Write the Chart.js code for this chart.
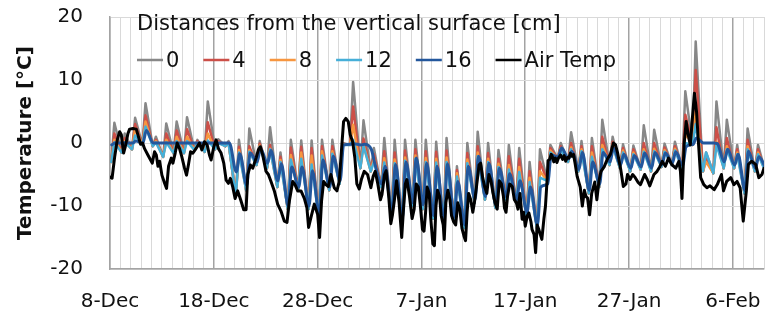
<!DOCTYPE html>
<html>
<head>
<meta charset="utf-8">
<script src="https://cdn.jsdelivr.net/npm/chart.js@4"></script>
<style>
  html, body { margin: 0; padding: 0; background: #ffffff; }
  #wrap { width: 767px; height: 322px; }
</style>
</head>
<body>
<div id="wrap"><canvas id="chart" width="767" height="322"></canvas></div>
<script>
// ---- Data (day 0 = 8 Dec, one unit per day) ----
const xTickLabels = ['8-Dec', '18-Dec', '28-Dec', '7-Jan', '17-Jan', '27-Jan', '6-Feb'];
const legendTitle = 'Distances from the vertical surface [cm]';
const seriesNames = ['0', '4', '8', '12', '16', 'Air Temp'];

// Daily morning low shared by the 0-12 cm sensors (days 0..63)
const surfaceLow = [
  -3.0, -1.5, -1.0, -0.3, -0.5, -2.2, -1.6, -1.6, -1.1, -1.4,
  -1.0, -0.5, -8.5, -7.5, -3.5, -4.0, -7.0, -10.5, -7.5, -10.5,
  -12.0, -7.5, -6.5, -0.3, -4.0, -4.5, -7.0, -11.5, -12.5, -10.0,
  -10.5, -12.0, -12.8, -12.3, -13.5, -9.5, -9.0, -10.3, -9.0, -9.5,
  -11.5, -13.5, -6.0, -2.5, -3.0, -4.5, -8.0, -7.0, -3.5, -4.0,
  -4.5, -4.2, -4.5, -3.8, -3.5, -4.0, -0.3, -4.5, -4.8, -4.0,
  -4.0, -8.0, -4.5, -4.5
];

// Daily midday peaks (days 0..62)
const peak0 = [
  3.2, 1.5, 4.0, 6.3, 1.0, 3.1, 3.4, 4.1, 0.5, 6.6,
  0.6, 0.3, 0.5, 2.3, 0.3, 2.5, -1.5, 0.5, 0.4, 0.4,
  0.5, 0.5, 0.0, 9.7, 3.6, -0.8, 0.8, 0.5, 0.5, 0.5,
  0.5, 0.2, 0.8, -3.7, 0.0, 1.8, 0.0, -1.1, -0.3, -0.8,
  -3.0, -1.0, -0.3, 0.0, 1.7, 0.3, 0.8, 3.7, 1.0, -0.2,
  -0.4, 2.8, 2.1, -0.1, 0.2, 8.2, 16.1, -1.5, 6.6, 3.7,
  -0.3, 2.3, -0.3
];
const peak4 = [
  1.5, 0.8, 3.0, 4.4, 0.5, 1.5, 2.0, 2.2, 0.3, 3.3,
  0.3, 0.1, -0.6, -0.5, -0.1, -0.3, -2.2, -0.7, -0.6, -0.8,
  -0.5, -0.5, -0.1, 5.8, 0.7, -1.8, -1.3, -1.5, -1.2, -1.0,
  -1.3, -1.4, -1.2, -4.3, -1.6, -0.5, -1.6, -2.5, -2.1, -2.5,
  -4.5, -3.0, -0.8, -0.5, 0.0, -0.5, -0.5, 1.0, 0.2, -0.8,
  -1.0, 0.0, 0.0, -0.7, -0.5, 4.5, 11.6, -2.5, 2.5, 0.8,
  -1.0, 0.5, -1.0
];
const peak8 = [
  0.5, 0.3, 2.3, 3.4, 0.3, 0.5, 1.0, 1.0, 0.1, 1.5,
  0.1, 0.0, -1.1, -1.1, -0.4, -0.9, -2.7, -1.9, -1.5, -2.0,
  -1.3, -1.3, -0.2, 2.9, -0.3, -2.5, -2.4, -2.6, -2.3, -2.0,
  -2.4, -2.5, -2.3, -4.8, -2.6, -1.5, -2.5, -3.3, -3.5, -3.8,
  -5.5, -4.5, -1.2, -0.9, -0.7, -1.0, -1.5, -0.3, -0.3, -1.2,
  -1.5, -1.0, -0.9, -1.1, -0.9, 1.5, 5.0, -3.0, 0.2, -0.5,
  -1.5, -0.5, -1.5
];
const peak12 = [
  0.1, 0.1, 1.2, 2.6, 0.1, 0.1, 0.3, 0.3, 0.0, 0.4,
  0.0, 0.0, -1.5, -1.4, -0.6, -1.0, -3.0, -2.6, -2.5, -3.4,
  -2.0, -1.7, -0.3, 0.5, -0.5, -3.0, -3.1, -3.2, -2.8, -2.5,
  -3.0, -3.1, -3.0, -5.3, -3.2, -2.1, -3.0, -3.8, -4.2, -4.6,
  -6.2, -5.5, -1.5, -1.1, -1.0, -1.3, -2.2, -1.0, -0.5, -1.5,
  -1.8, -1.4, -1.3, -1.4, -1.2, 0.0, 3.0, -1.5, -0.3, -1.0,
  -1.8, -1.0, -1.8
];

// 16 cm sensor: smoother daily low (days 0..63) and peak (days 0..62)
const low16 = [
  -0.3, 0, 0, 0, 0, 0, 0, 0, 0, 0,
  0, 0, -4.6, -6.7, -3.0, -3.2, -6.0, -10.0, -7.0, -10.0,
  -11.4, -7.0, -6.0, -0.2, -0.3, -1.0, -6.5, -11.0, -12.0, -9.5,
  -9.8, -11.5, -12.3, -11.8, -13.0, -9.0, -8.5, -9.8, -8.5, -9.0,
  -11.0, -13.0, -6.5, -2.2, -2.5, -4.2, -7.5, -6.5, -3.0, -3.5,
  -4.0, -3.8, -4.0, -3.4, -3.2, -3.5, -0.2, 0, 0, -3.0,
  -3.5, -7.5, -4.0, -4.0
];
const peak16 = [
  0, 0, 0.3, 2.0, 0, 0, 0, 0, 0, 0,
  0, 0, -1.7, -1.6, -0.9, -1.2, -3.3, -3.8, -3.8, -4.4,
  -2.7, -2.1, -0.3, -0.1, -0.2, -3.2, -3.7, -3.4, -3.0, -2.4,
  -3.2, -3.7, -3.3, -6.1, -3.7, -2.1, -3.2, -4.0, -4.9, -6.0,
  -7.0, -7.0, -1.9, -0.8, -1.3, -1.5, -3.0, -1.5, -0.8, -1.8,
  -2.0, -1.6, -1.5, -1.6, -1.4, -0.6, 0.8, 0, -0.1, -1.0,
  -1.8, -1.3, -2.2
];

// Air temperature readings: [day, °C]
const airTemp = [
  [0,-5.4],[0.2,-5.6],[0.45,-2.2],[0.7,0.5],[0.93,1.8],[1.09,1.3],[1.31,-1.6],[1.47,-0.6],
  [1.73,1.5],[1.89,2.2],[2.21,2.3],[2.53,2.2],[2.69,1.3],[2.95,-0.2],[3.14,0],[3.33,-0.9],
  [3.65,-1.9],[3.91,-2.7],[4.07,-3.2],[4.29,-1.4],[4.46,-1.9],[4.62,-3.7],[4.78,-2.9],[5.0,-5.1],
  [5.26,-6.4],[5.45,-7.2],[5.64,-3.7],[5.9,-2.4],[6.06,-3.2],[6.28,-1.6],[6.47,0],[6.7,-0.9],
  [6.92,-2.2],[7.18,-4],[7.37,-5.1],[7.56,-3.4],[7.76,-1.4],[7.98,-1.6],[8.2,-1.1],[8.4,-0.6],
  [8.62,0],[8.85,-1.1],[9.1,0.2],[9.36,-0.3],[9.58,-1.9],[9.74,-2.7],[10.0,-0.6],[10.22,0.5],
  [10.45,-0.9],[10.7,-1.6],[10.96,-3.2],[11.19,-5.9],[11.41,-6.4],[11.6,-5.6],[11.83,-7],[12.05,-8.8],
  [12.3,-7.6],[12.6,-9.1],[12.88,-10.6],[13.11,-10.6],[13.27,-5],[13.53,-3.5],[13.75,-4.0],[14.07,-2.4],
  [14.29,-1.1],[14.49,-0.6],[14.71,-1.9],[15.03,-4.5],[15.26,-5.0],[15.51,-6.1],[15.83,-7.6],[16.15,-9.7],
  [16.47,-10.8],[16.79,-12.4],[17.05,-12.6],[17.28,-9.2],[17.6,-6.1],[17.82,-6.6],[18.08,-7.6],[18.4,-7.6],
  [18.72,-8.8],[18.97,-10.3],[19.13,-13.4],[19.36,-11.8],[19.68,-9.7],[20.0,-11.3],[20.19,-15.0],[20.38,-9.2],
  [20.58,-6.1],[20.8,-6.6],[21.03,-6.9],[21.28,-5.0],[21.6,-7.1],[21.86,-7.6],[22.08,-6.1],[22.31,-0.9],
  [22.5,3.4],[22.72,3.9],[22.95,3.4],[23.14,1.3],[23.37,0.25],[23.59,-2.4],[23.78,-6.5],[24.01,-7.3],
  [24.23,-5.7],[24.49,-4.5],[24.81,-5.0],[25.13,-7.1],[25.35,-5.3],[25.55,-4.5],[25.8,-6.5],[26.05,-9.0],
  [26.2,-8.2],[26.45,-5.0],[26.6,-4.4],[26.85,-8.5],[27.05,-12.8],[27.2,-11.5],[27.4,-9.0],[27.6,-6.0],
  [27.85,-9.5],[28.1,-15.0],[28.25,-11.0],[28.45,-6.5],[28.6,-5.8],[28.85,-8.5],[29.1,-12.0],[29.3,-10.5],
  [29.5,-6.5],[29.7,-7.0],[29.9,-10.0],[30.1,-13.7],[30.25,-14.0],[30.4,-11.0],[30.55,-7.0],[30.75,-8.0],
  [30.9,-12.0],[31.1,-16.0],[31.25,-16.3],[31.4,-10.0],[31.55,-7.5],[31.75,-8.5],[31.9,-11.5],[32.1,-13.0],
  [32.2,-15.3],[32.35,-9.5],[32.55,-7.5],[32.75,-9.0],[32.9,-11.5],[33.1,-12.5],[33.3,-13.0],[33.5,-9.5],
  [33.7,-10.5],[33.9,-13.5],[34.1,-14.8],[34.25,-15.5],[34.4,-11.0],[34.55,-8.0],[34.75,-9.0],[34.95,-11.0],
  [35.1,-9.5],[35.3,-7.0],[35.55,-3.5],[35.7,-3.2],[35.9,-5.5],[36.1,-7.0],[36.3,-8.0],[36.5,-5.0],
  [36.7,-6.0],[36.9,-8.0],[37.1,-9.5],[37.3,-10.5],[37.5,-6.0],[37.7,-6.5],[37.9,-8.5],[38.0,-10.3],
  [38.15,-11.0],[38.3,-8.4],[38.5,-6.5],[38.75,-6.9],[38.95,-9.0],[39.15,-9.5],[39.3,-10.5],[39.5,-8.0],
  [39.7,-12.1],[39.85,-11.0],[40.0,-13.2],[40.2,-11.5],[40.35,-11.1],[40.55,-12.5],[40.65,-13.7],[40.85,-14.5],
  [41.0,-17.4],[41.15,-13.0],[41.3,-13.7],[41.45,-14.5],[41.6,-15.3],[41.8,-12.0],[41.95,-10.0],[42.1,-6.0],
  [42.2,-2.8],[42.35,-2.6],[42.5,-1.8],[42.6,-2.1],[42.75,-3.0],[42.9,-2.4],[43.05,-3.1],[43.2,-2.4],
  [43.4,-1.9],[43.6,-2.6],[43.75,-2.0],[43.9,-2.9],[44.05,-2.3],[44.2,-2.4],[44.35,-1.6],[44.5,-2.1],
  [44.65,-1.8],[44.8,-3.2],[45.0,-5.3],[45.3,-7.0],[45.5,-10.0],[45.7,-7.5],[45.85,-8.5],[46.0,-8.7],
  [46.2,-11.4],[46.4,-8.0],[46.7,-6.2],[46.9,-9.0],[47.1,-6.0],[47.3,-4.5],[47.6,-3.8],[47.9,-2.6],
  [48.2,-1.8],[48.5,0.0],[48.7,-0.3],[48.9,-1.6],[49.2,-4.2],[49.45,-6.9],[49.7,-6.5],[49.85,-5.0],
  [50.1,-5.8],[50.35,-5.0],[50.6,-5.5],[50.85,-6.2],[51.1,-6.6],[51.5,-5.0],[51.75,-5.8],[52.0,-6.8],
  [52.4,-5.0],[52.7,-4.5],[52.95,-3.8],[53.2,-2.9],[53.5,-3.7],[53.8,-2.4],[54.1,-3.4],[54.5,-4.0],
  [54.8,-2.9],[54.95,-4.5],[55.1,-8.8],[55.3,-0.3],[55.5,3.4],[55.7,1.3],[55.9,-0.3],[56.1,3.9],
  [56.3,7.9],[56.5,5.0],[56.7,-0.3],[56.9,-5.5],[57.2,-6.6],[57.5,-7.1],[57.8,-6.8],[58.2,-7.4],
  [58.5,-6.6],[58.9,-5.0],[59.1,-7.6],[59.4,-6.1],[59.8,-5.5],[60.1,-6.6],[60.4,-6.1],[60.7,-7.1],
  [61.0,-12.4],[61.3,-7.6],[61.5,-3.4],[61.8,-2.9],[62.2,-3.4],[62.5,-5.5],[62.8,-5.0],[63.0,-4.0]
];

// Time of day (fraction of a day) for the daily low and peak of each sensor group
const LOW_AT = 0.12, PEAK_AT = 0.42;
const LOW16_AT = 0.17, PEAK16_AT = 0.5;

function dailyPoints(lows, peaks, lowAt, peakAt) {
  const pts = [];
  lows.forEach((v, day) => {
    pts.push({ x: day + lowAt, y: v });
    if (day < peaks.length) pts.push({ x: day + peakAt, y: peaks[day] });
  });
  return pts;
}

const FONT = '"DejaVu Sans", "Liberation Sans", sans-serif';
const colors = ['#878787', '#CC4F48', '#F7963F', '#46AFD8', '#23579C', '#000000'];
const widths = [2.5, 2.5, 2.5, 2.5, 3, 3];
const CLEAR = 'rgba(0,0,0,0)';

const seriesData = [
  dailyPoints(surfaceLow, peak0, LOW_AT, PEAK_AT),
  dailyPoints(surfaceLow, peak4, LOW_AT, PEAK_AT),
  dailyPoints(surfaceLow, peak8, LOW_AT, PEAK_AT),
  dailyPoints(surfaceLow, peak12, LOW_AT, PEAK_AT),
  dailyPoints(low16, peak16, LOW16_AT, PEAK16_AT),
  airTemp.map(([d, t]) => ({ x: d, y: t }))
];

const datasets = seriesNames.map((name, i) => ({
  label: name,
  data: seriesData[i],
  borderColor: colors[i],
  backgroundColor: colors[i],
  borderWidth: widths[i],
  pointRadius: 0,
  tension: 0,
  cubicInterpolationMode: i === 4 ? 'monotone' : 'default',
  order: seriesNames.length - i   // later series drawn on top
}));

// Key drawn inside the plot area, below its title line
const seriesKey = {
  id: 'seriesKey',
  afterDraw(chart) {
    const { ctx, chartArea } = chart;
    const left = chartArea.left + 27;
    ctx.save();
    ctx.font = '21px ' + FONT;
    ctx.fillStyle = '#111111';
    ctx.textBaseline = 'alphabetic';
    ctx.textAlign = 'left';
    ctx.fillText(legendTitle, left, chartArea.top + 13);
    let x = left;
    const lineY = chartArea.top + 43, textY = chartArea.top + 50;
    chart.data.datasets.forEach(ds => {
      ctx.strokeStyle = ds.borderColor;
      ctx.lineWidth = 2.5;
      ctx.beginPath();
      ctx.moveTo(x, lineY);
      ctx.lineTo(x + 26, lineY);
      ctx.stroke();
      ctx.fillText(ds.label, x + 29, textY);
      x += 29 + ctx.measureText(ds.label).width + 24;
    });
    ctx.restore();
  }
};

new Chart(document.getElementById('chart'), {
  type: 'line',
  data: { datasets },
  options: {
    responsive: false,
    animation: false,
    devicePixelRatio: 1,
    layout: { padding: { top: 17, right: 3, left: 0, bottom: 0 } },
    plugins: { legend: { display: false }, tooltip: { enabled: false } },
    elements: { line: { borderJoinStyle: 'round', borderCapStyle: 'round' } },
    scales: {
      x: {
        type: 'linear',
        min: 0,
        max: 63,
        ticks: {
          stepSize: 1,
          maxTicksLimit: 100,
          autoSkip: false,
          maxRotation: 0,
          padding: 0,
          color: '#111111',
          font: { family: FONT, size: 20 },
          callback: v => (v % 10 === 0 ? xTickLabels[v / 10] : '')
        },
        grid: {
          drawTicks: true,
          tickLength: 21,
          tickColor: CLEAR,
          color: c => (c.tick && c.tick.value % 10 === 0 ? '#A3A3A3' : '#D9D9D9'),
          lineWidth: c => (c.tick && c.tick.value % 10 === 0 ? 1.5 : 1)
        },
        border: { display: true, color: '#A3A3A3', width: 1.5 },
        afterFit: s => { s.height = 53; }
      },
      y: {
        min: -20,
        max: 20,
        ticks: {
          stepSize: 10,
          padding: 0,
          color: '#111111',
          font: { family: FONT, size: 20 }
        },
        grid: { drawTicks: true, tickLength: 27, tickColor: CLEAR, color: '#D9D9D9', lineWidth: 1 },
        border: { display: true, color: '#A3A3A3', width: 1.5 },
        title: {
          display: true,
          text: 'Temperature [°C]',
          color: '#111111',
          font: { family: FONT, size: 20, weight: 'bold' },
          padding: { top: 14, bottom: 0 }
        },
        afterFit: s => { s.width = 110; }
      }
    }
  },
  plugins: [seriesKey]
});
</script>
</body>
</html>
